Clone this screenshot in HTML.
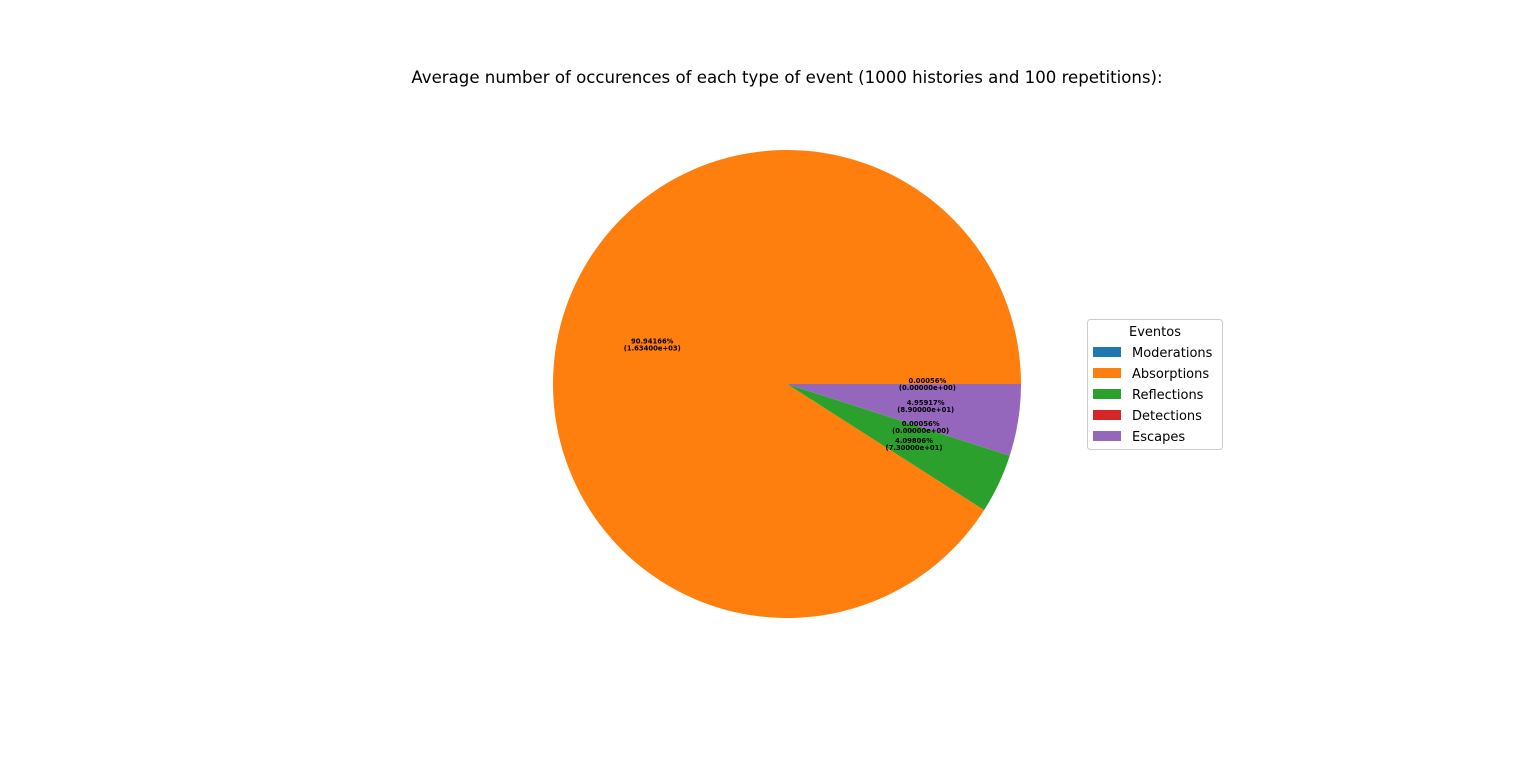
<!DOCTYPE html>
<html><head><meta charset="utf-8"><style>
body{margin:0;background:#fff;}
svg{display:block;font-family:"DejaVu Sans","Liberation Sans",sans-serif;}
</style></head><body>
<svg id="c" width="1536" height="761">
<text x="787" y="83" text-anchor="middle" font-size="16.6">Average number of occurences of each type of event (1000 histories and 100 repetitions):</text>
<g id="slices"></g>
<g id="labels"></g>
<g>
<rect x="1087.5" y="319.5" width="135" height="130" rx="3" fill="#fff" stroke="#ccc"/>
<text x="1155" y="336" text-anchor="middle" font-size="13">Eventos</text>
<g id="legend"></g>
</g>
</svg>
<script>
const categories=["Moderations","Absorptions","Reflections","Detections","Escapes"];
const percents=[0.00056,90.94166,4.09806,0.00056,4.95917];
const counts=["0.00000e+00","1.63400e+03","7.30000e+01","0.00000e+00","8.90000e+01"];
const colors=["#1f77b4","#ff7f0e","#2ca02c","#d62728","#9467bd"];
const NS="http://www.w3.org/2000/svg";
const cx=787,cy=384,r=234;
const total=percents.reduce((a,b)=>a+b,0);
let ang=0;
const sg=document.getElementById('slices'),lg=document.getElementById('labels'),leg=document.getElementById('legend');
function pt(a,rr){return [cx+rr*Math.cos(a),cy-rr*Math.sin(a)];}
percents.forEach((v,i)=>{
 const a0=ang,a1=ang+v/total*2*Math.PI;ang=a1;
 const p0=pt(a0,r),p1=pt(a1,r);
 const large=(a1-a0)>Math.PI?1:0;
 const p=document.createElementNS(NS,'path');
 p.setAttribute('d',`M${cx},${cy} L${p0[0]},${p0[1]} A${r},${r} 0 ${large} 0 ${p1[0]},${p1[1]} Z`);
 p.setAttribute('fill',colors[i]);
 
 
 sg.appendChild(p);
 const m=(a0+a1)/2,lp=pt(m,r*0.6);
 const t=document.createElementNS(NS,'text');
 t.setAttribute('text-anchor','middle');t.setAttribute('font-size','6.8');t.setAttribute('font-weight','bold');
 
 
 const s1=document.createElementNS(NS,'tspan');s1.setAttribute('x',lp[0]);s1.setAttribute('y',lp[1]-1);s1.textContent=percents[i].toFixed(5)+'%';
 const s2=document.createElementNS(NS,'tspan');s2.setAttribute('x',lp[0]);s2.setAttribute('y',lp[1]+6);s2.textContent='('+counts[i]+')';
 t.appendChild(s1);t.appendChild(s2);lg.appendChild(t);
 const y=352+i*21;
 const g=document.createElementNS(NS,'g');
 
 
 const rc=document.createElementNS(NS,'rect');rc.setAttribute('x',1093);rc.setAttribute('y',y-5);rc.setAttribute('width',28);rc.setAttribute('height',10);rc.setAttribute('fill',colors[i]);
 const tx=document.createElementNS(NS,'text');tx.setAttribute('x',1132);tx.setAttribute('y',y+5);tx.setAttribute('font-size','13');tx.textContent=categories[i];
 g.appendChild(rc);g.appendChild(tx);leg.appendChild(g);
});
</script>
</body></html>
